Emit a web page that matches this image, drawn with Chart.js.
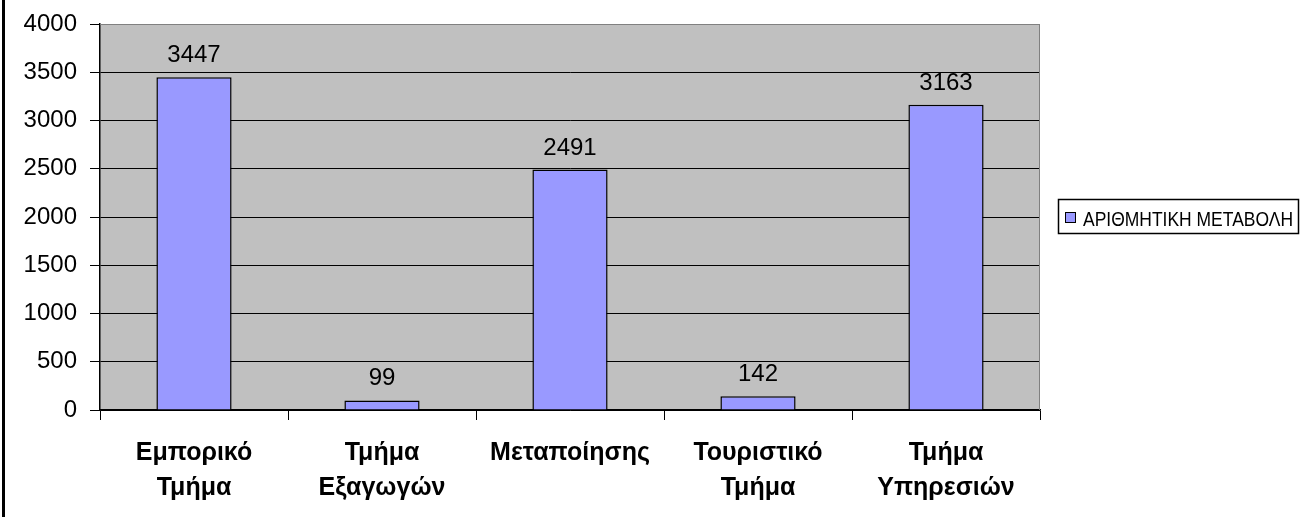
<!DOCTYPE html>
<html>
<head>
<meta charset="utf-8">
<script src="https://cdn.jsdelivr.net/npm/chart.js@4"></script>
<style>
  body { margin: 0; background: #fff; }
</style>
</head>
<body>
<canvas id="myChart" width="1303" height="517"></canvas>
<script>
// categories (multi-line labels as in the original)
const tmimata = [
  ['Εμπορικό', 'Τμήμα'],
  ['Τμήμα', 'Εξαγωγών'],
  'Μεταποίησης',
  ['Τουριστικό', 'Τμήμα'],
  ['Τμήμα', 'Υπηρεσιών']
];
const metavoli = [3447, 99, 2491, 142, 3163];
const seira = 'ΑΡΙΘΜΗΤΙΚΗ ΜΕΤΑΒΟΛΗ';
const yMin = 0;
const yMax = 4000;
const yStep = 500;

const FONT = '"Liberation Sans", Arial, sans-serif';

// gray plot area + left frame line
const fonto = {
  id: 'fonto',
  beforeDraw(chart) {
    const c = chart.ctx, a = chart.chartArea;
    c.save();
    c.fillStyle = '#fff';
    c.fillRect(0, 0, chart.width, chart.height);
    c.fillStyle = '#000';
    c.fillRect(2, 0, 3, chart.height);
    c.fillStyle = '#c0c0c0';
    c.fillRect(a.left, a.top, a.right - a.left, a.bottom - a.top);
    c.restore();
  },
  afterDraw(chart) {
    const c = chart.ctx, a = chart.chartArea;
    c.save();
    c.strokeStyle = '#808080';
    c.lineWidth = 1;
    c.beginPath();
    c.moveTo(a.left, Math.round(a.top) + 0.5);
    c.lineTo(Math.round(a.right) - 0.5, Math.round(a.top) + 0.5);
    c.lineTo(Math.round(a.right) - 0.5, a.bottom);
    c.stroke();
    c.restore();
  }
};

// value labels above the bars
const etiketes = {
  id: 'etiketes',
  afterDatasetsDraw(chart) {
    const c = chart.ctx;
    const meta = chart.getDatasetMeta(0);
    c.save();
    c.font = '24px ' + FONT;
    c.fillStyle = '#000';
    c.textAlign = 'center';
    c.textBaseline = 'alphabetic';
    meta.data.forEach((bar, i) => {
      c.fillText(String(metavoli[i]), bar.x, bar.y - 15);
    });
    c.restore();
  }
};

// boxed legend on the right
const ypomnima = {
  id: 'ypomnima',
  afterDraw(chart) {
    const c = chart.ctx;
    const ds = chart.data.datasets[0];
    c.save();
    c.strokeStyle = '#000';
    c.lineWidth = 1.5;
    c.strokeRect(1058.5, 199.5, 240, 34);
    c.fillStyle = ds.backgroundColor;
    c.fillRect(1065, 212, 10, 10);
    c.lineWidth = 1;
    c.strokeRect(1065.5, 212.5, 10, 10);
    c.fillStyle = '#000';
    c.font = '21px ' + FONT;
    c.textBaseline = 'alphabetic';
    c.textAlign = 'left';
    c.fillText(ds.label, 1083, 226, 210);
    c.restore();
  }
};

const ctx = document.getElementById('myChart').getContext('2d');
const chart = new Chart(ctx, {
  type: 'bar',
  data: {
    labels: tmimata,
    datasets: [{
      label: seira,
      data: metavoli,
      backgroundColor: '#9999ff',
      borderColor: '#000',
      borderWidth: 1.5,
      barPercentage: 0.4,
      categoryPercentage: 1
    }]
  },
  options: {
    responsive: false,
    animation: false,
    layout: { padding: { top: 24, right: 263, left: 0, bottom: 0 } },
    plugins: {
      legend: { display: false },
      tooltip: { enabled: false }
    },
    scales: {
      x: {
        grid: {
          drawOnChartArea: false,
          drawTicks: true,
          tickLength: 10,
          tickColor: '#000'
        },
        border: { color: '#000', width: 1.5 },
        ticks: {
          color: '#000',
          padding: 16,
          maxRotation: 0,
          font: { family: FONT, size: 25, weight: 'bold', lineHeight: 1.38 }
        },
        afterFit(scale) { scale.height = 107; }
      },
      y: {
        min: yMin,
        max: yMax,
        ticks: {
          stepSize: yStep,
          color: '#000',
          padding: 13,
          font: { family: FONT, size: 24, lineHeight: 0.8 },
          callback: v => String(v)
        },
        grid: {
          color: c => (c.tick && c.tick.value === yMax ? '#808080' : '#000'),
          lineWidth: 1,
          tickLength: 10,
          tickColor: '#000'
        },
        border: { color: '#000', width: 1.5 },
        afterFit(scale) { scale.width = 100; }
      }
    }
  },
  plugins: [fonto, etiketes, ypomnima]
});
</script>
</body>
</html>
